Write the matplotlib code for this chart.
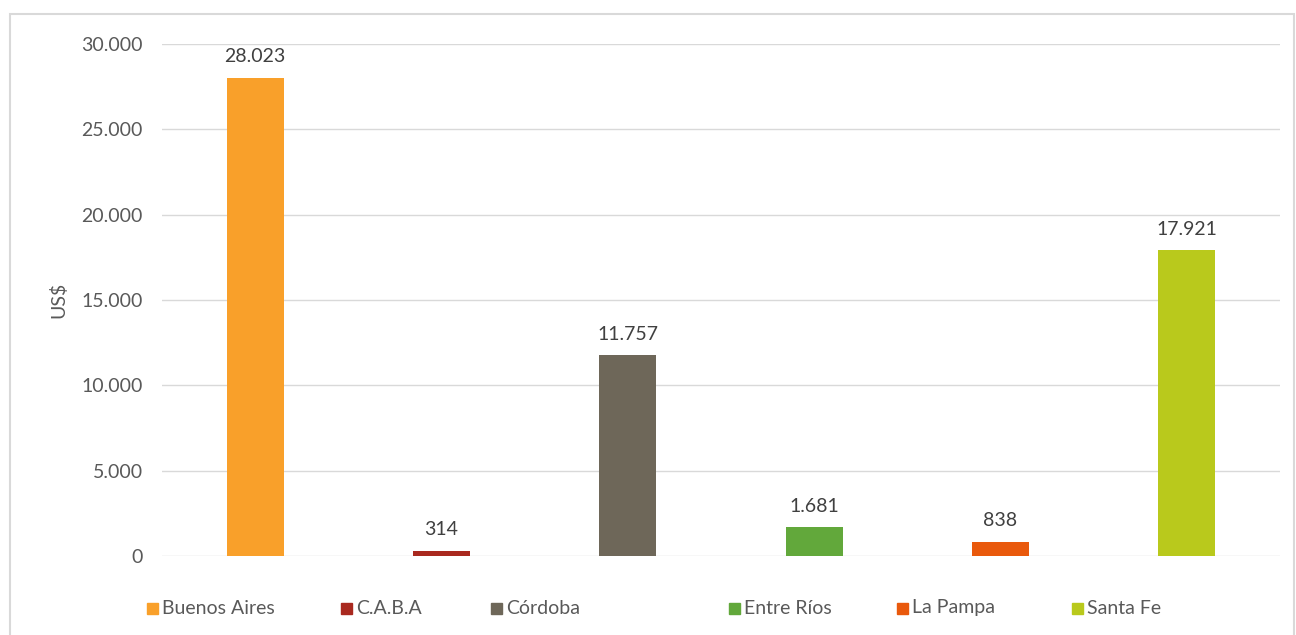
import matplotlib.pyplot as plt
from matplotlib.patches import Rectangle
from matplotlib.ticker import FuncFormatter

provincias = ['Buenos Aires', 'C.A.B.A', 'Córdoba', 'Entre Ríos', 'La Pampa', 'Santa Fe']
valores = [28023, 314, 11757, 1681, 838, 17921]
colores = ['#F9A02A', '#A9291F', '#6E6759', '#62A83B', '#E9590C', '#B9C91C']
yticks = [0, 5000, 10000, 15000, 20000, 25000, 30000]


def miles(v, pos=None):
    return f'{int(round(v)):,}'.replace(',', '.')


plt.rcParams['font.family'] = ['Lato', 'DejaVu Sans']
gris = '#595959'

fig = plt.figure(figsize=(12.96, 6.35), dpi=100)
ax = fig.add_axes([162 / 1296, 79 / 635, 1118 / 1296, 512 / 635])

xs = list(range(len(provincias)))
ax.bar(xs, valores, width=0.306, color=colores, zorder=3)
for x, v in zip(xs, valores):
    ax.annotate(miles(v), (x, v), xytext=(0, 9), textcoords='offset points',
                ha='center', va='bottom', fontsize=14, color='#404040')

ax.set_xlim(-0.5, len(provincias) - 0.5)
ax.set_ylim(0, 30000)
ax.set_yticks(yticks)
ax.yaxis.set_major_formatter(FuncFormatter(miles))
ax.set_xticks([])
ax.grid(axis='y', color='#d9d9d9', linewidth=1, zorder=0)
for s in ax.spines.values():
    s.set_visible(False)
ax.tick_params(axis='y', length=0, pad=14, labelsize=14, labelcolor=gris)
ax.set_ylabel('US$', fontsize=14, color=gris, labelpad=10)

# marco del gráfico
fig.patches.append(Rectangle((10 / 1296, -0.01), 1284 / 1296, (635 - 14) / 635 + 0.01,
                             transform=fig.transFigure, fill=False,
                             edgecolor='#d9d9d9', linewidth=1.5))

# leyenda
ley_x = [147, 341, 491, 729, 897, 1072]
for px, nombre, c in zip(ley_x, provincias, colores):
    fig.patches.append(Rectangle((px / 1296, (635 - 614) / 635), 11 / 1296, 11 / 635,
                                 transform=fig.transFigure, color=c))
    fig.text((px + 15) / 1296, (635 - 608) / 635, nombre, fontsize=14,
             color=gris, va='center', ha='left')

fig.savefig('out.png', dpi=100)
